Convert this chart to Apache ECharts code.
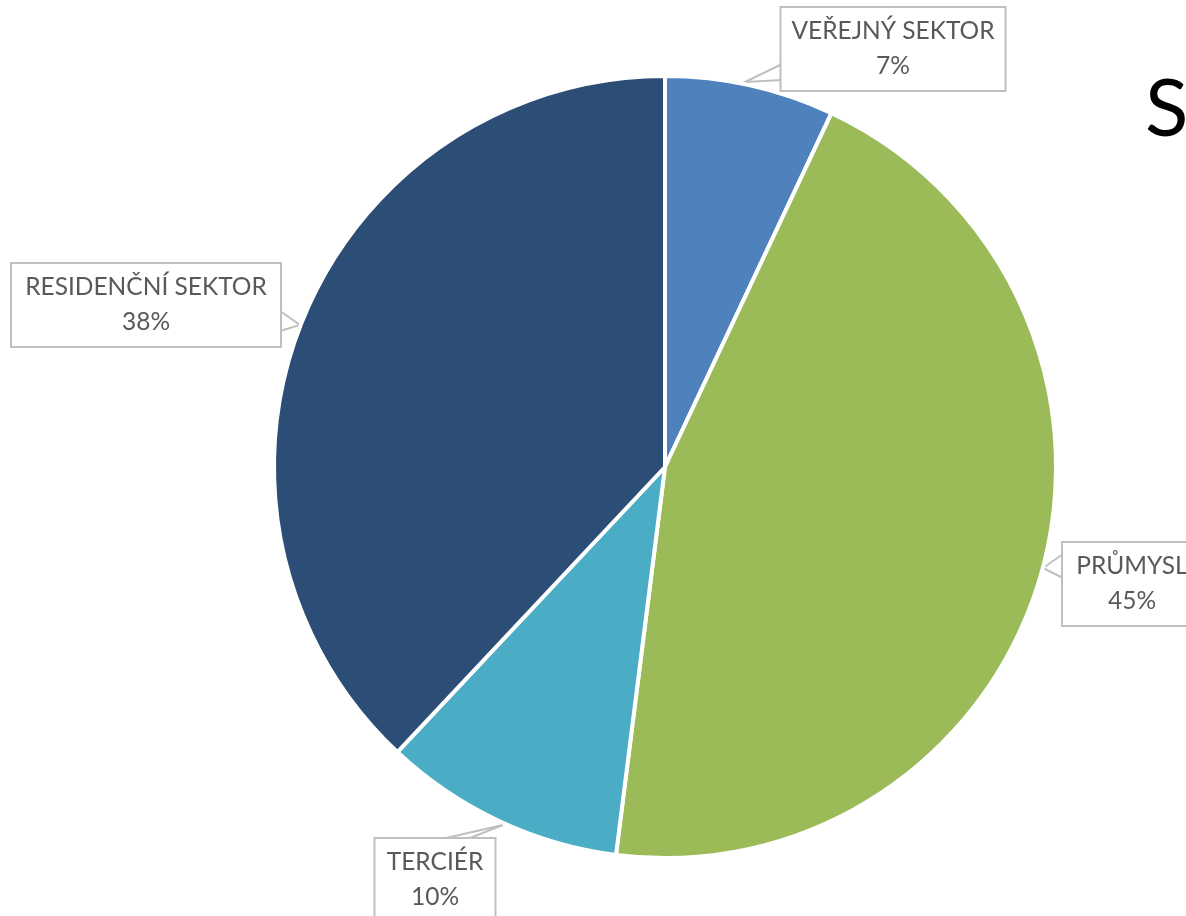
<!DOCTYPE html>
<html>
<head>
<meta charset="utf-8">
<script src="https://cdn.jsdelivr.net/npm/echarts@6/dist/echarts.min.js"></script>
<style>
  html, body { margin: 0; padding: 0; background: #ffffff; }
  #chart { width: 1186px; height: 916px; }
</style>
</head>
<body>
<div id="chart"></div>
<script>
// Energy consumption by sector (share in %)
const sectors = ['VEŘEJNÝ SEKTOR', 'PRŮMYSL', 'TERCIÉR', 'RESIDENČNÍ SEKTOR'];
const shares = [7, 45, 10, 38];
const sectorColors = ['#4f81bd', '#9bbb59', '#4bacc6', '#2c4d75'];

// Callout box centres, inner widths and pointer shapes for each sector label
const calloutLayouts = [
  { x: 893, y: 49, w: 201, line: [[782, 64], [745, 82], [782, 80]] },
  { x: 1132, y: 584, w: 116, line: [[1063, 554], [1043, 568], [1063, 578]] },
  { x: 435, y: 880, w: 97, line: [[446, 838], [503, 825], [470, 838]] },
  { x: 146, y: 305, w: 246, line: [[280, 311], [300, 325], [280, 331]] }
];

const chart = echarts.init(document.getElementById('chart'), null, { renderer: 'canvas' });

chart.setOption({
  backgroundColor: '#ffffff',
  animation: false,
  graphic: [{
    type: 'text',
    left: 1145,
    top: 70,
    style: {
      text: 'S',
      font: '80px Lato, "Open Sans", sans-serif',
      fill: '#000000'
    }
  }],
  series: [{
    type: 'pie',
    center: [665, 467],
    radius: 391,
    startAngle: 90,
    clockwise: true,
    data: sectors.map((name, i) => ({
      name: name,
      value: shares[i],
      itemStyle: { color: sectorColors[i] },
      label: { width: calloutLayouts[i].w }
    })),
    itemStyle: {
      borderColor: '#ffffff',
      borderWidth: 4
    },
    label: {
      show: true,
      formatter: p => p.name + '\n' + p.value + '%',
      fontFamily: 'Lato, "Open Sans", sans-serif',
      fontSize: 24.5,
      lineHeight: 35,
      color: '#595959',
      align: 'center',
      overflow: 'none',
      backgroundColor: '#ffffff',
      borderColor: '#bfbfbf',
      borderWidth: 2,
      padding: [6, 11, 6, 11]
    },
    labelLine: {
      show: true,
      lineStyle: { color: '#bfbfbf', width: 2 }
    },
    labelLayout: params => {
      const c = calloutLayouts[params.dataIndex];
      return {
        x: c.x,
        y: c.y,
        align: 'center',
        verticalAlign: 'middle',
        labelLinePoints: c.line
      };
    },
    emphasis: { disabled: true }
  }]
});
</script>
</body>
</html>
